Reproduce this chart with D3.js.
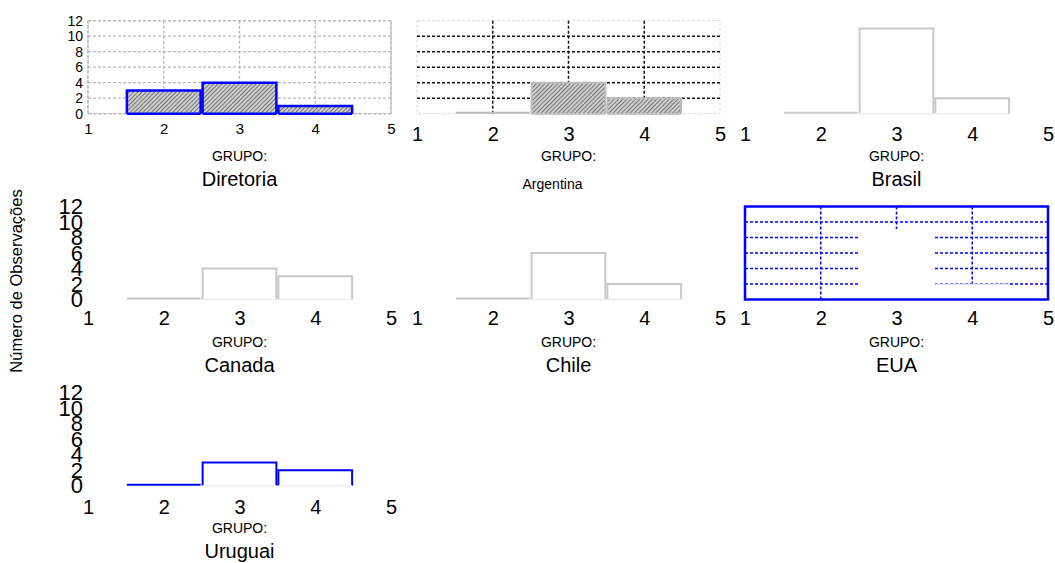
<!DOCTYPE html>
<html>
<head>
<meta charset="utf-8">
<script src="https://cdn.jsdelivr.net/npm/d3@7"></script>
<style>
  html, body { margin: 0; padding: 0; background: #fff; }
  svg { display: block; font-family: "Liberation Sans", Arial, sans-serif; }
</style>
</head>
<body>
<svg id="chart" width="1055" height="563"></svg>
<script>
// Frequency of observations per GRUPO value, one histogram per unit
const grupos = ["Diretoria", "Argentina", "Brasil", "Canada", "Chile", "EUA", "Uruguai"];
const binCenters = [2, 3, 4];
const diretoria = [3, 4, 1];
const argentina = [0, 4, 2];
const brasil    = [0, 11, 2];
const canada    = [0, 4, 3];
const chile     = [0, 6, 2];
const eua       = [0, 9, 2];
const uruguai   = [0, 3, 2];
const xTicks = [1, 2, 3, 4, 5];
const yTicks = [0, 2, 4, 6, 8, 10, 12];
const yTitle = "Número de Observações";
const xTitle = "GRUPO:";

const counts = [diretoria, argentina, brasil, canada, chile, eua, uruguai];

// grid placement of the small multiples
const colX = [88, 417, 745];
const rowBase = [113.7, 299.5, 485.7];
const plotW = 303, plotH = 93;

// per-panel look
const styles = [
  { grid: "greyDot", frame: "greyDot", fill: "url(#hatch)", stroke: "#0000ff", sw: 2.5, yLab: 14, xLab: 15, xPad: 10, title: 20 },
  { grid: "blackDot", frame: "faint", fill: "url(#hatch)", stroke: "#bdbdbd", sw: 2, yLab: 0, xLab: 20, xPad: 13, title: 14, titleDx: -16, titleDy: 3 },
  { grid: null, frame: null, fill: "#fff", stroke: "#c8c8c8", sw: 2, yLab: 0, xLab: 20, xPad: 13, title: 20 },
  { grid: null, frame: null, fill: "#fff", stroke: "#c8c8c8", sw: 2, yLab: 22, xLab: 20, xPad: 11, title: 20 },
  { grid: null, frame: null, fill: "#fff", stroke: "#c8c8c8", sw: 2, yLab: 0, xLab: 20, xPad: 11, title: 20 },
  { grid: "blueDot", frame: "blue", fill: "#fff", stroke: "#c8c8ff", sw: 1, yLab: 0, xLab: 20, xPad: 11, title: 20 },
  { grid: null, frame: null, fill: "#fff", stroke: "#0000ff", sw: 2, yLab: 22, xLab: 20, xPad: 14, title: 20 }
];

const svg = d3.select("#chart");

// diagonal hatch used by the shaded histograms
const defs = svg.append("defs");
const pat = defs.append("pattern")
  .attr("id", "hatch").attr("patternUnits", "userSpaceOnUse")
  .attr("width", 3).attr("height", 3)
  .attr("patternTransform", "rotate(45)");
pat.append("rect").attr("width", 3).attr("height", 3).attr("fill", "#d0d0d0");
pat.append("line").attr("x1", 0).attr("y1", 0).attr("x2", 0).attr("y2", 3)
  .attr("stroke", "#4a4a4a").attr("stroke-width", 1.4);

const gridStyle = {
  greyDot:  { stroke: "#b8b8b8", dash: "3,2", w: 1.3 },
  blackDot: { stroke: "#111",    dash: "3,2", w: 1.5 },
  blueDot:  { stroke: "#0000ff", dash: "3,2", w: 1.5 }
};

grupos.forEach((name, i) => {
  const st = styles[i];
  const col = i % 3, row = Math.floor(i / 3);
  const x0 = colX[col], yb = rowBase[row];
  const x = d3.scaleLinear().domain([1, 5]).range([x0, x0 + plotW]);
  const y = d3.scaleLinear().domain([0, 12]).range([yb, yb - plotH]);
  const g = svg.append("g");
  const data = binCenters.map((c, k) => ({ c, v: counts[i][k] }));

  // frame
  if (st.frame === "greyDot" || st.frame === "faint") {
    g.append("rect")
      .attr("x", x(1)).attr("y", y(12))
      .attr("width", x(5) - x(1)).attr("height", y(0) - y(12))
      .attr("fill", "none")
      .attr("stroke", st.frame === "faint" ? "#d8d8d8" : "#b8b8b8")
      .attr("stroke-width", st.frame === "faint" ? 1 : 1.3)
      .attr("stroke-dasharray", "3,2");
  }

  // grid lines
  if (st.grid) {
    const gs = gridStyle[st.grid];
    const hVals = st.grid === "greyDot" ? yTicks : yTicks.filter(v => v > 0 && v < 12);
    const vVals = st.grid === "greyDot" ? xTicks : xTicks.filter(v => v > 1 && v < 5);
    g.append("g").selectAll("line.h").data(hVals).join("line")
      .attr("x1", x(1)).attr("x2", x(5))
      .attr("y1", d => y(d)).attr("y2", d => y(d))
      .attr("stroke", gs.stroke).attr("stroke-width", gs.w)
      .attr("stroke-dasharray", gs.dash);
    g.append("g").selectAll("line.v").data(vVals).join("line")
      .attr("x1", d => x(d)).attr("x2", d => x(d))
      .attr("y1", y(12)).attr("y2", y(0))
      .attr("stroke", gs.stroke).attr("stroke-width", gs.w)
      .attr("stroke-dasharray", gs.dash);
  }

  // bars
  const bars = g.append("g");
  data.forEach(d => {
    const xl = x(d.c - 0.5), xr = x(d.c + 0.5), yt = y(d.v);
    if (d.v > 0) {
      bars.append("rect")
        .attr("x", xl + 1).attr("y", yt)
        .attr("width", xr - xl - 2).attr("height", y(0) - yt)
        .attr("fill", st.fill).attr("stroke", "none");
      if (st.grid === "blueDot") {
        bars.append("line")
          .attr("x1", xl + 1).attr("x2", xr - 1).attr("y1", yt).attr("y2", yt)
          .attr("stroke", d.c === 4 ? st.stroke : "#fff").attr("stroke-width", 1);
      } else {
        bars.append("path")
          .attr("d", `M${xl + 1},${y(0)}V${yt}H${xr - 1}V${y(0)}`)
          .attr("fill", "none").attr("stroke", st.stroke).attr("stroke-width", st.sw);
        bars.append("line")
          .attr("x1", xl + 1).attr("x2", xr - 1).attr("y1", y(0)).attr("y2", y(0))
          .attr("stroke", st.fill === "#fff" ? "#eeeeee" : st.stroke)
          .attr("stroke-width", st.fill === "#fff" ? 1.5 : st.sw);
      }
    } else if (st.grid !== "blueDot") {
      bars.append("line")
        .attr("x1", xl + 1).attr("x2", xr - 1).attr("y1", y(0) - 1).attr("y2", y(0) - 1)
        .attr("stroke", st.stroke).attr("stroke-width", st.sw);
    }
  });

  // EUA frame on top
  if (st.frame === "blue") {
    g.append("rect")
      .attr("x", x(1)).attr("y", y(12))
      .attr("width", x(5) - x(1)).attr("height", y(0) - y(12))
      .attr("fill", "none").attr("stroke", "#0000ff").attr("stroke-width", 2.5);
  }

  // x tick labels
  const xa = g.append("g").attr("transform", `translate(0,${yb})`)
    .call(d3.axisBottom(x).tickValues(xTicks).tickFormat(d3.format("d"))
      .tickSize(0).tickPadding(st.xPad));
  xa.select(".domain").remove();
  xa.selectAll("text").attr("font-size", st.xLab).attr("fill", "#000")
    .attr("font-family", "Liberation Sans, Arial, sans-serif");

  // y tick labels
  if (st.yLab) {
    const ya = g.append("g").attr("transform", `translate(${x0},0)`)
      .call(d3.axisLeft(y).tickValues(yTicks).tickFormat(d3.format("d"))
        .tickSize(0).tickPadding(5));
    ya.select(".domain").remove();
    ya.selectAll("text").attr("font-size", st.yLab).attr("fill", "#000")
      .attr("font-family", "Liberation Sans, Arial, sans-serif");
  }

  // panel captions
  const cx = (x(1) + x(5)) / 2;
  g.append("text").attr("x", cx).attr("y", yb + 47)
    .attr("text-anchor", "middle").attr("font-size", 14).text(xTitle);
  g.append("text").attr("x", cx + (st.titleDx || 0)).attr("y", yb + 72 + (st.titleDy || 0))
    .attr("text-anchor", "middle").attr("font-size", st.title).text(name);
});

// shared y axis title
svg.append("text")
  .attr("transform", "translate(22,281) rotate(-90)")
  .attr("text-anchor", "middle").attr("font-size", 16.5).text(yTitle);
</script>
</body>
</html>
